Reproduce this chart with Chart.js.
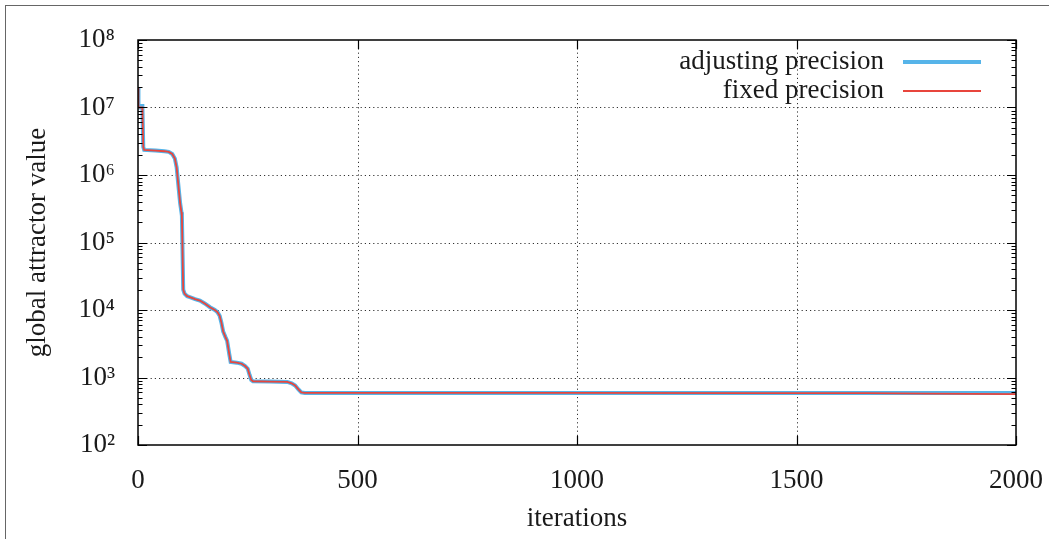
<!DOCTYPE html>
<html>
<head>
<meta charset="utf-8">
<script src="https://cdn.jsdelivr.net/npm/chart.js@4"></script>
<style>
    html, body { margin: 0; padding: 0; background: #fff; }
    #wrap { position: relative; width: 1049px; height: 539px; overflow: hidden; }
    #chart { position: absolute; left: 0; top: 0; }
    #frame { position: absolute; left: 5px; top: 5px; width: 1100px; height: 600px;
             border-left: 1.5px solid #666; border-top: 1.5px solid #666; pointer-events: none; }
</style>
</head>
<body>
<div id="wrap">
    <canvas id="chart" width="1049" height="539"></canvas>
    <div id="frame"></div>
</div>
<script>
// data
const adjIter = [0, 1, 7, 8, 10, 12, 14, 40, 60, 70, 78, 84, 88, 92, 96, 99, 100, 103, 106, 112, 118, 130, 141, 152, 164, 175, 181, 186, 190, 194, 199, 203, 208, 211, 225, 236, 244, 250, 254, 258, 262, 300, 340, 350, 358, 366, 372, 380, 1000, 2000];
const adjValue = [2.0e7, 1.0e7, 1.0e7, 1.05e7, 1.05e7, 2.6e6, 2.35e6, 2.3e6, 2.25e6, 2.2e6, 2.05e6, 1.75e6, 1.3e6, 7.0e5, 3.8e5, 2.8e5, 2.5e5, 2.0e4, 1.75e4, 1.6e4, 1.55e4, 1.45e4, 1.38e4, 1.25e4, 1.1e4, 1.0e4, 9.3e3, 8.2e3, 6.5e3, 4.8e3, 4.0e3, 3.5e3, 2.2e3, 1.7e3, 1.66e3, 1.6e3, 1.48e3, 1.35e3, 1.1e3, 920, 880, 870, 860, 820, 760, 660, 600, 590, 590, 588];

const fixIter = [0, 1, 10, 12, 14, 40, 60, 70, 78, 84, 88, 92, 96, 99, 100, 103, 106, 112, 118, 130, 141, 152, 164, 175, 181, 186, 190, 194, 199, 203, 208, 211, 225, 236, 244, 250, 254, 258, 262, 300, 340, 350, 358, 366, 372, 380, 1000, 1400, 1660, 1800, 2000];
const fixValue = [2.0e7, 1.0e7, 1.0e7, 2.6e6, 2.35e6, 2.3e6, 2.25e6, 2.2e6, 2.05e6, 1.75e6, 1.3e6, 7.0e5, 3.8e5, 2.8e5, 2.5e5, 2.0e4, 1.75e4, 1.6e4, 1.55e4, 1.45e4, 1.38e4, 1.25e4, 1.1e4, 1.0e4, 9.3e3, 8.2e3, 6.5e3, 4.8e3, 4.0e3, 3.5e3, 2.2e3, 1.7e3, 1.66e3, 1.6e3, 1.48e3, 1.35e3, 1.1e3, 920, 880, 870, 860, 820, 760, 660, 600, 590, 590, 588, 585, 575, 567];

const seriesLabels = ["adjusting precision", "fixed precision"];
const xTicks = [0, 500, 1000, 1500, 2000];
const yExponents = [2, 3, 4, 5, 6, 7, 8];

const FONT = "'Liberation Serif', 'DejaVu Serif', serif";
const SUP = "⁰¹²³⁴⁵⁶⁷⁸⁹";

function toPoints(xs, ys) {
    return xs.map((x, i) => ({ x: x, y: ys[i] }));
}

// dotted grid under the lines; frame, inward ticks and legend on top
const gnuplotBits = {
    id: "gnuplotBits",
    beforeDatasetsDraw(chart) {
        const ctx = chart.ctx;
        const area = chart.chartArea;
        const xs = chart.scales.x;
        const ys = chart.scales.y;
        ctx.save();
        ctx.strokeStyle = "rgba(0,0,0,0.8)";
        ctx.lineWidth = 1;
        ctx.setLineDash([1.2, 3]);
        ctx.beginPath();
        xTicks.slice(1, -1).forEach(v => {
            const px = Math.round(xs.getPixelForValue(v)) + 0.5;
            ctx.moveTo(px, area.top); ctx.lineTo(px, area.bottom);
        });
        yExponents.slice(1, -1).forEach(e => {
            const py = Math.round(ys.getPixelForValue(Math.pow(10, e))) + 0.5;
            ctx.moveTo(area.left, py); ctx.lineTo(area.right, py);
        });
        ctx.stroke();
        ctx.restore();
    },
    afterDraw(chart) {
        const ctx = chart.ctx;
        const area = chart.chartArea;
        const xs = chart.scales.x;
        const ys = chart.scales.y;
        ctx.save();
        ctx.strokeStyle = "#000";
        ctx.lineWidth = 1.2;

        ctx.beginPath();
        xTicks.forEach(v => {
            const px = Math.round(xs.getPixelForValue(v)) + 0.5;
            ctx.moveTo(px, area.bottom); ctx.lineTo(px, area.bottom - 9);
            ctx.moveTo(px, area.top); ctx.lineTo(px, area.top + 9);
        });
        yExponents.forEach((e, k) => {
            const py = Math.round(ys.getPixelForValue(Math.pow(10, e))) + 0.5;
            ctx.moveTo(area.left, py); ctx.lineTo(area.left + 9, py);
            ctx.moveTo(area.right, py); ctx.lineTo(area.right - 9, py);
            if (k < yExponents.length - 1) {
                for (let m = 2; m <= 9; m++) {
                    const pm = Math.round(ys.getPixelForValue(m * Math.pow(10, e))) + 0.5;
                    ctx.moveTo(area.left, pm); ctx.lineTo(area.left + 4.5, pm);
                    ctx.moveTo(area.right, pm); ctx.lineTo(area.right - 4.5, pm);
                }
            }
        });
        ctx.stroke();

        ctx.lineWidth = 1.5;
        ctx.strokeRect(area.left, area.top, area.right - area.left, area.bottom - area.top);

        // legend: text right aligned, sample to the right
        ctx.font = "27px " + FONT;
        ctx.fillStyle = "#1a1a1a";
        ctx.textAlign = "right";
        ctx.textBaseline = "middle";
        chart.data.datasets.forEach((ds, i) => {
            const y = area.top + 22 + i * 29;
            ctx.fillText(ds.label, area.right - 132, y);
            ctx.strokeStyle = ds.borderColor;
            ctx.lineWidth = ds.borderWidth;
            ctx.beginPath();
            ctx.moveTo(area.right - 113, y);
            ctx.lineTo(area.right - 35, y);
            ctx.stroke();
        });
        ctx.restore();
    }
};

new Chart(document.getElementById("chart"), {
    type: "line",
    data: {
        datasets: [{
            label: seriesLabels[0],
            data: toPoints(adjIter, adjValue),
            borderColor: "#56b4e9",
            borderWidth: 4,
            pointRadius: 0,
            tension: 0,
            order: 2
        }, {
            label: seriesLabels[1],
            data: toPoints(fixIter, fixValue),
            borderColor: "#e8453c",
            borderWidth: 1.8,
            pointRadius: 0,
            tension: 0,
            order: 1
        }]
    },
    options: {
        responsive: false,
        animation: false,
        devicePixelRatio: 1,
        layout: { padding: { left: 0, top: 40, right: 33, bottom: 0 } },
        plugins: {
            legend: { display: false },
            tooltip: { enabled: false }
        },
        scales: {
            x: {
                type: "linear",
                min: 0,
                max: 2000,
                afterFit: scale => {
                    scale.height = 94;
                    scale.paddingLeft = 0;
                    scale.paddingRight = 0;
                },
                afterBuildTicks: scale => { scale.ticks = xTicks.map(v => ({ value: v })); },
                ticks: {
                    color: "#1a1a1a",
                    font: { family: FONT, size: 27 },
                    padding: 12,
                    maxRotation: 0,
                    callback: v => String(v)
                },
                grid: { display: false },
                border: { display: false },
                title: { display: true, text: "iterations", color: "#1a1a1a", font: { family: FONT, size: 27 }, padding: { top: 0, bottom: 4 } }
            },
            y: {
                type: "logarithmic",
                min: 1e2,
                max: 1e8,
                afterFit: scale => {
                    scale.width = 138;
                    scale.paddingTop = 0;
                    scale.paddingBottom = 0;
                },
                afterBuildTicks: scale => { scale.ticks = yExponents.map(e => ({ value: Math.pow(10, e) })); },
                ticks: {
                    color: "#1a1a1a",
                    font: { family: FONT, size: 27 },
                    padding: 15,
                    callback: v => "10" + String(Math.round(Math.log10(v))).split("").map(d => SUP[+d]).join("")
                },
                grid: { display: false },
                border: { display: false },
                title: { display: true, text: "global attractor value", color: "#1a1a1a", font: { family: FONT, size: 27 }, padding: { top: 22, bottom: 0 } }
            }
        }
    },
    plugins: [gnuplotBits]
});
</script>
</body>
</html>
